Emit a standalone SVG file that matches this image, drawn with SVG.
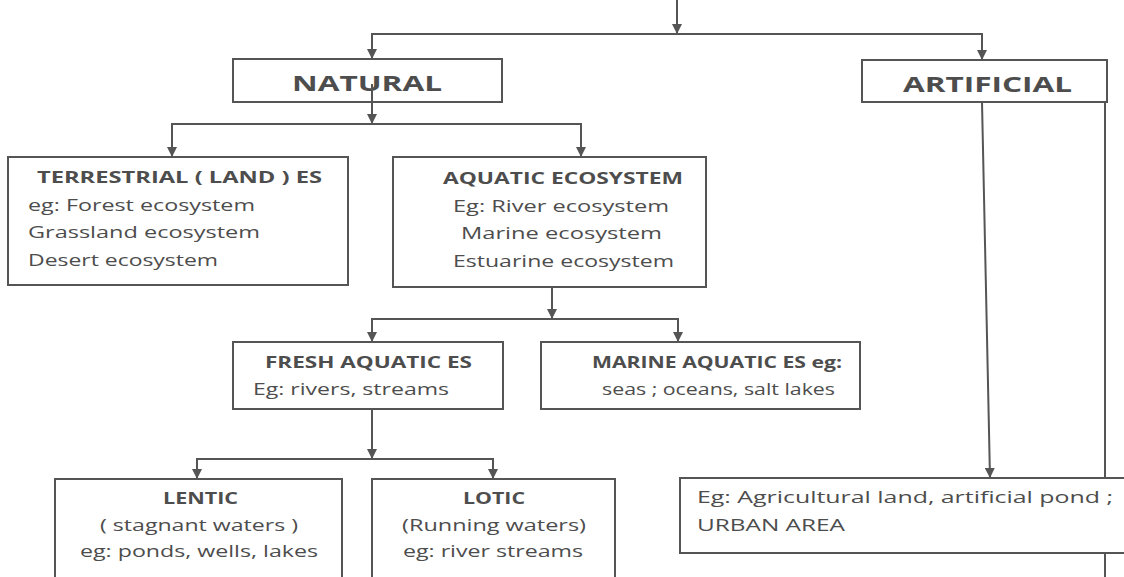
<svg xmlns="http://www.w3.org/2000/svg" width="1124" height="577" viewBox="0 0 1124 577">
<defs>
<style>
.box{fill:#fff;stroke:#555;stroke-width:2}
.ln{fill:none;stroke:#555;stroke-width:2}
.arr{marker-end:url(#ah)}
text{font-family:"Open Sans","Liberation Sans",sans-serif;fill:#4d4d4d;font-size:16px}
.b{font-weight:bold}
.big{font-size:22px;font-weight:bold}
.c{text-anchor:middle}
</style>
<marker id="ah" viewBox="0 0 10 10" refX="10" refY="5" markerWidth="10" markerHeight="10" markerUnits="userSpaceOnUse" orient="auto">
<path d="M0,0 L10,5 L0,10 Z" fill="#555"/>
</marker>
</defs>
<rect width="1124" height="577" fill="#fff"/>
<g id="connectors">
<line class="ln arr" x1="677" y1="0" x2="677" y2="34"/>
<polyline class="ln arr" points="677,34 372,34 372,59"/>
<polyline class="ln arr" points="677,34 982,34 982,60"/>
<line class="ln arr" x1="372" y1="84" x2="372" y2="124"/>
<polyline class="ln arr" points="372,124 172,124 172,157"/>
<polyline class="ln arr" points="372,124 581,124 581,157"/>
<line class="ln arr" x1="552" y1="287" x2="552" y2="319"/>
<polyline class="ln arr" points="552,319 372,319 372,342"/>
<polyline class="ln arr" points="552,319 678,319 678,342"/>
<line class="ln arr" x1="372" y1="409" x2="372" y2="459"/>
<polyline class="ln arr" points="372,459 197,459 197,479"/>
<polyline class="ln arr" points="372,459 493,459 493,479"/>
<line class="ln arr" x1="982" y1="102" x2="990" y2="478"/>
<line class="ln" x1="1105" y1="102" x2="1105" y2="478"/>
<line class="ln" x1="1105" y1="553" x2="1105" y2="577"/>
</g>
<g id="natural">
<rect class="box" x="233" y="59" width="269" height="43"/>
<text class="big" x="292" y="91" textLength="150" lengthAdjust="spacingAndGlyphs">NATURAL</text>
</g>
<line class="ln" x1="372" y1="84" x2="372" y2="102"/>
<g id="artificial">
<rect class="box" x="862" y="60" width="245" height="42"/>
<text class="big" x="903" y="92" textLength="169" lengthAdjust="spacingAndGlyphs">ARTIFICIAL</text>
</g>
<g id="terrestrial">
<rect class="box" x="8" y="157" width="340" height="128"/>
<text class="b" x="37" y="183" textLength="285" lengthAdjust="spacingAndGlyphs">TERRESTRIAL  ( LAND )  ES</text>
<text x="28" y="211" textLength="227" lengthAdjust="spacingAndGlyphs">eg: Forest ecosystem</text>
<text x="28" y="238" textLength="232" lengthAdjust="spacingAndGlyphs">Grassland  ecosystem</text>
<text x="28" y="266" textLength="190" lengthAdjust="spacingAndGlyphs">Desert ecosystem</text>
</g>
<g id="aquatic">
<rect class="box" x="393" y="157" width="313" height="130"/>
<text class="b" x="443" y="184" textLength="240" lengthAdjust="spacingAndGlyphs">AQUATIC ECOSYSTEM</text>
<text x="453" y="212" textLength="216" lengthAdjust="spacingAndGlyphs">Eg: River ecosystem</text>
<text x="461" y="239" textLength="201" lengthAdjust="spacingAndGlyphs">Marine ecosystem</text>
<text x="453" y="267" textLength="221" lengthAdjust="spacingAndGlyphs">Estuarine ecosystem</text>
</g>
<g id="fresh">
<rect class="box" x="233" y="342" width="270" height="67"/>
<text class="b" x="265" y="368" textLength="207" lengthAdjust="spacingAndGlyphs">FRESH AQUATIC ES</text>
<text x="253" y="395" textLength="196" lengthAdjust="spacingAndGlyphs">Eg: rivers, streams</text>
</g>
<g id="marine">
<rect class="box" x="541" y="342" width="319" height="67"/>
<text class="b" x="592" y="368" textLength="250" lengthAdjust="spacingAndGlyphs">MARINE AQUATIC ES eg:</text>
<text x="602" y="395" textLength="233" lengthAdjust="spacingAndGlyphs">seas ; oceans,  salt lakes</text>
</g>
<g id="lentic">
<rect class="box" x="55" y="479" width="287" height="110"/>
<text class="b" x="163" y="504" textLength="75" lengthAdjust="spacingAndGlyphs">LENTIC</text>
<text x="100" y="531" textLength="198" lengthAdjust="spacingAndGlyphs">( stagnant waters )</text>
<text x="80" y="557" textLength="238" lengthAdjust="spacingAndGlyphs">eg: ponds, wells, lakes</text>
</g>
<g id="lotic">
<rect class="box" x="372" y="479" width="243" height="110"/>
<text class="b" x="463" y="504" textLength="62" lengthAdjust="spacingAndGlyphs">LOTIC</text>
<text x="402" y="531" textLength="184" lengthAdjust="spacingAndGlyphs">(Running waters)</text>
<text x="403" y="557" textLength="180" lengthAdjust="spacingAndGlyphs">eg: river streams</text>
</g>
<g id="artificial-examples">
<rect class="box" x="680" y="478" width="460" height="75"/>
<text x="697" y="503" textLength="416" lengthAdjust="spacingAndGlyphs">Eg: Agricultural land, artificial pond ;</text>
<text x="697" y="531" textLength="148" lengthAdjust="spacingAndGlyphs">URBAN  AREA</text>
</g>
</svg>
